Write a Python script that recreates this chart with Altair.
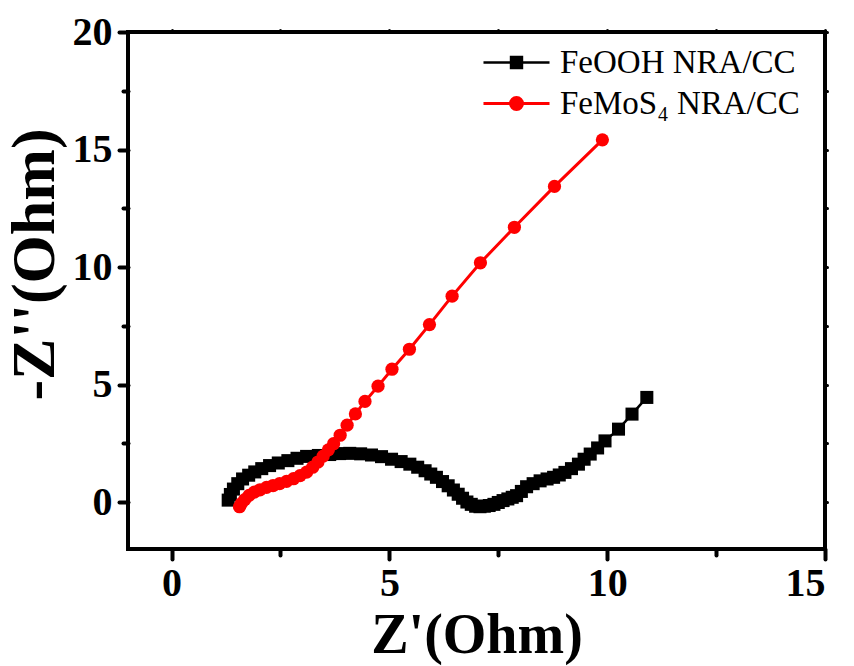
import altair as alt
import pandas as pd

# ---- data ----
feooh_x = [1.30, 1.35, 1.42, 1.52, 1.63, 1.77, 1.91, 2.07, 2.25, 2.45, 2.67, 2.88, 3.10, 3.37,
           3.63, 3.86, 4.09, 4.34, 4.59, 4.82, 5.05, 5.27, 5.47, 5.65, 5.82, 5.95, 6.08, 6.22,
           6.35, 6.47, 6.58, 6.68, 6.78, 6.88, 6.98, 7.08, 7.18, 7.29, 7.40, 7.50, 7.61, 7.72,
           7.82, 7.92, 8.03, 8.15, 8.30, 8.46, 8.62, 8.77, 8.90, 9.03, 9.18, 9.34, 9.47, 9.61,
           9.78, 9.95, 10.26, 10.57, 10.91]
feooh_y = [0.08, 0.32, 0.55, 0.78, 0.98, 1.14, 1.28, 1.42, 1.55, 1.66, 1.76, 1.86, 1.94, 1.98,
           2.02, 2.06, 2.07, 2.05, 2.00, 1.93, 1.82, 1.72, 1.61, 1.48, 1.33, 1.19, 1.05, 0.87,
           0.69, 0.51, 0.33, 0.16, 0.00, -0.10, -0.18, -0.20, -0.18, -0.15, -0.10, -0.02, 0.06, 0.13,
           0.20, 0.27, 0.45, 0.65, 0.78, 0.90, 0.98, 1.05, 1.15, 1.26, 1.42, 1.61, 1.82, 2.04,
           2.30, 2.60, 3.10, 3.74, 4.45]

femos_x = [1.56, 1.60, 1.68, 1.78, 1.90, 2.03, 2.18, 2.33, 2.48, 2.64, 2.80, 2.95, 3.10, 3.24,
           3.36, 3.48, 3.60, 3.72, 3.87, 4.03, 4.22, 4.44, 4.74, 5.06, 5.46, 5.92, 6.44, 7.09,
           7.87, 8.79, 9.89]
femos_y = [-0.20, -0.07, 0.10, 0.28, 0.42, 0.52, 0.62, 0.70, 0.78, 0.88, 0.99, 1.12, 1.27, 1.48,
           1.70, 1.95, 2.22, 2.48, 2.84, 3.27, 3.75, 4.28, 4.93, 5.65, 6.50, 7.55, 8.76, 10.18,
           11.69, 13.43, 15.41]

S1 = "FeOOH NRA/CC"
S2 = "FeMoS\u2084 NRA/CC"
series_names = [S1, S2]
series_colors = ["black", "red"]

x_major = [0, 5, 10, 15]
x_minor = [2.5, 7.5, 12.5]
x_all = [0, 2.5, 5, 7.5, 10, 12.5, 15]
y_major = [0, 5, 10, 15, 20]
y_minor = [2.5, 7.5, 12.5, 17.5]
y_all = [0, 2.5, 5, 7.5, 10, 12.5, 15, 17.5, 20]

rows = []
for i, (a, b) in enumerate(zip(feooh_x, feooh_y)):
    rows.append({"zr": a, "zi": b, "series": S1, "idx": i})
for i, (a, b) in enumerate(zip(femos_x, femos_y)):
    rows.append({"zr": a, "zi": b, "series": S2, "idx": i})
df = pd.DataFrame(rows)

FONT = "Liberation Serif"
xs = alt.Scale(domain=[-1, 15], nice=False, zero=False)
ys = alt.Scale(domain=[-2, 20], nice=False, zero=False)

common_axis = dict(domain=False, grid=False, tickColor="black", tickCap="round",
                   labelFont=FONT, labelFontSize=40, labelFontWeight="bold", labelColor="black",
                   titleFont=FONT, titleFontWeight="bold", titleColor="black")

x_main = alt.Axis(orient="bottom", values=x_major, tickSize=10, tickWidth=4, labelPadding=4,
                  title="Z'(Ohm)", titleFontSize=56, titleY=103, titleBaseline="alphabetic",
                  **common_axis)
y_main = alt.Axis(orient="left", values=y_major, tickSize=9, tickWidth=4, labelPadding=7,
                  title="-Z''(Ohm)", titleFontSize=62, titleX=-75, titleY=232,
                  titleBaseline="alphabetic", **common_axis)

x_min = alt.Axis(orient="bottom", values=x_minor, tickSize=6, tickWidth=4, labels=False, title=None,
                 domain=False, grid=False, tickColor="black", tickCap="round")
y_min = alt.Axis(orient="left", values=y_minor, tickSize=5, tickWidth=4, labels=False, title=None,
                 domain=False, grid=False, tickColor="black", tickCap="round")

x_top = alt.Axis(orient="top", values=x_all, tickSize=2, tickWidth=3, labels=False, title=None,
                 domain=False, grid=False, tickColor="black", tickCap="round")
y_right = alt.Axis(orient="right", values=y_all, tickSize=2, tickWidth=3, labels=False, title=None,
                   domain=False, grid=False, tickColor="black", tickCap="round")

sq_path = "M-2.54,0H2.54M-0.42,-0.42H0.42V0.42H-0.42Z"
ci_path = "M-2.54,0H2.54M-0.46,0A0.46,0.46,0,1,0,0.46,0A0.46,0.46,0,1,0,-0.46,0Z"

legend = alt.Legend(
    title=None, orient="none", legendX=372, legendY=14, padding=0, rowPadding=7,
    symbolSize=676,
    symbolType={"expr": f"datum.value === '{S1}' ? '{sq_path}' : '{ci_path}'"},
    symbolFillColor={"expr": f"datum.value === '{S1}' ? 'black' : 'red'"},
    symbolStrokeWidth=3,
    labelFont=FONT, labelFontSize=33, labelColor="black", labelLimit=400, labelOffset=27,
)

base = alt.Chart(df)

lines = base.mark_line().encode(
    x=alt.X("zr:Q", scale=xs, axis=x_main),
    y=alt.Y("zi:Q", scale=ys, axis=y_main),
    color=alt.Color("series:N", scale=alt.Scale(domain=series_names, range=series_colors), legend=legend),
    strokeWidth=alt.StrokeWidth("series:N", scale=alt.Scale(domain=series_names, range=[2.5, 3]), legend=None),
    order=alt.Order("idx:Q"),
    detail="series:N",
)

pts_black = base.transform_filter(alt.datum.series == S1).mark_point(
    shape="square", filled=True, size=170, opacity=1, color="black", strokeWidth=0
).encode(
    x=alt.X("zr:Q", scale=xs, axis=x_min),
    y=alt.Y("zi:Q", scale=ys, axis=y_min),
)

pts_red = base.transform_filter(alt.datum.series == S2).mark_point(
    shape="circle", filled=True, size=175, opacity=1, color="red", strokeWidth=0
).encode(
    x=alt.X("zr:Q", scale=xs, axis=x_top),
    y=alt.Y("zi:Q", scale=ys, axis=y_right),
)

chart = alt.layer(lines, pts_black, pts_red).resolve_axis(
    x="independent", y="independent"
).properties(
    width=697, height=517,
    padding={"left": 128, "top": 32, "right": 29, "bottom": 117},
    autosize=alt.AutoSizeParams(type="none"),
    background="white",
).configure_view(stroke="black", strokeWidth=4)

chart.save("out.html", embed_options={"renderer": "svg", "actions": False})
